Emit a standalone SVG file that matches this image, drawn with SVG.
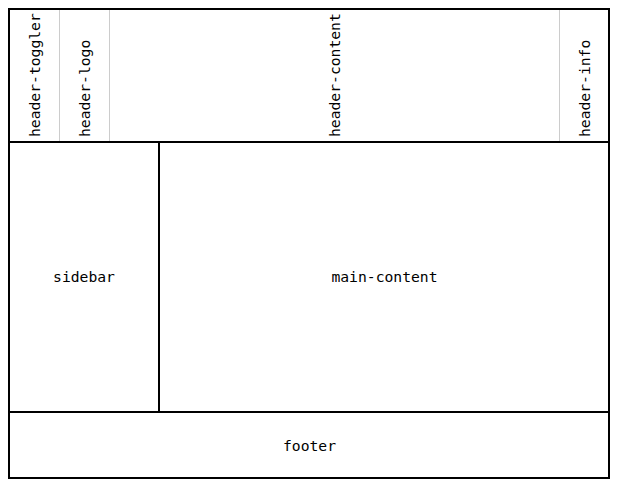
<svg xmlns="http://www.w3.org/2000/svg" width="625" height="487" viewBox="0 0 625 487">
<style>
.t{font-family:"DejaVu Sans Mono","Liberation Mono",monospace;font-size:14.7px;fill:#000}
.c{text-anchor:middle}
.b{fill:none;stroke:#000;stroke-width:2}
.d{stroke:#ccc;stroke-width:1}
</style>
<rect width="625" height="487" fill="#fff"/>
<g id="header">
<rect class="b" x="9" y="9" width="600" height="133"/>
<g id="header-toggler"><text class="t" transform="translate(39.5,137) rotate(-90)">header-toggler</text></g>
<line class="d" x1="59.5" y1="10" x2="59.5" y2="141"/>
<g id="header-logo"><text class="t" transform="translate(90,137) rotate(-90)">header-logo</text></g>
<line class="d" x1="109.5" y1="10" x2="109.5" y2="141"/>
<g id="header-content"><text class="t" transform="translate(340,137) rotate(-90)">header-content</text></g>
<line class="d" x1="559.5" y1="10" x2="559.5" y2="141"/>
<g id="header-info"><text class="t" transform="translate(590,137) rotate(-90)">header-info</text></g>
</g>
<g id="sidebar">
<rect class="b" x="9" y="142" width="150" height="270"/>
<text class="t c" x="84" y="282">sidebar</text>
</g>
<g id="main-content">
<rect class="b" x="159" y="142" width="450" height="270"/>
<text class="t c" x="384.5" y="282">main-content</text>
</g>
<g id="footer">
<rect class="b" x="9" y="412" width="600" height="66"/>
<text class="t c" x="309.5" y="451">footer</text>
</g>
<g id="connectors"/>
</svg>
